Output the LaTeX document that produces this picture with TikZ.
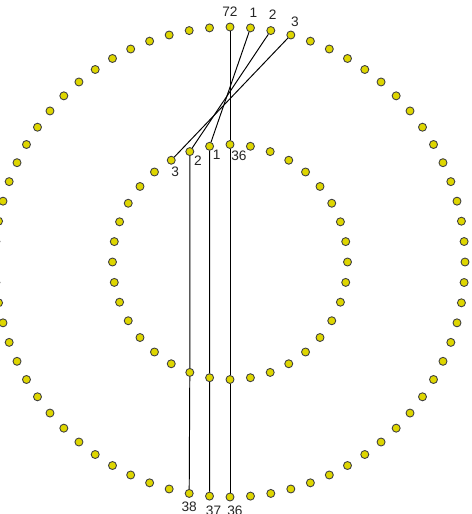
\documentclass[tikz,border=0pt]{standalone}
\usepackage{fontspec}
\setmainfont{Liberation Sans}
\definecolor{dotyellow}{RGB}{222,214,0}
\tikzset{
    dot/.style={circle, draw=black!75, fill=dotyellow, line width=0.5pt, minimum size=0.16cm, inner sep=0pt},
    lbl/.style={font=\fontsize{7.8}{9}\selectfont, text=black!85, inner sep=0pt},
    wire/.style={line width=0.55pt}
}
\begin{document}
\begin{tikzpicture}[x=0.02cm, y=0.02cm]
    \clip (-230,-252) rectangle (241,262);
    \foreach \k in {1,...,72}
        \node[dot] (o\k) at ({90-5*\k}:235) {};
    \foreach \k in {1,...,36}
        \node[dot] (i\k) at ({90+10*\k}:117.5) {};

    \draw[wire] (o72) -- (i36) -- (i18) -- (o36);
    \draw[wire] (o1) -- (i1) -- (i17) -- (o37);
    \draw[wire] (o2) -- (i2) -- (i16) -- (o38);
    \draw[wire] (o3) -- (i3);

    \node[lbl] (t72) at ([shift={(0,15)}]o72) {72};
    \node[lbl] (t1) at ([shift={(3,15)}]o1) {1};
    \node[lbl] (t2) at ([shift={(2,16)}]o2) {2};
    \node[lbl] (t3) at ([shift={(4,13)}]o3) {3};
    \node[lbl] (u3) at ([shift={(4,-12)}]i3) {3};
    \node[lbl] (u2) at ([shift={(8,-9)}]i2) {2};
    \node[lbl] (u1) at ([shift={(7,-9)}]i1) {1};
    \node[lbl] (u36) at ([shift={(9,-11)}]i36) {36};
    \node[lbl] (t38) at ([shift={(0,-13)}]o38) {38};
    \node[lbl] (t37) at ([shift={(4,-15)}]o37) {37};
    \node[lbl] (t36) at ([shift={(5,-14)}]o36) {36};
\end{tikzpicture}
\end{document}
